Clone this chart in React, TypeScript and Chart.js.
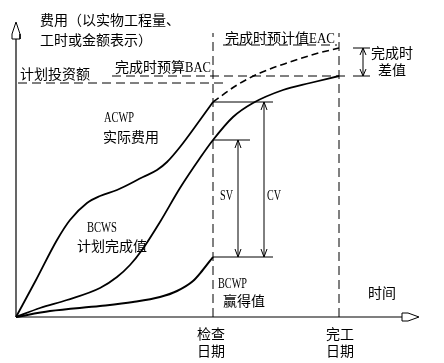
import { useEffect, useRef } from "react";
import { Chart, registerables } from "chart.js";

Chart.register(...registerables);

// ---- data (time units along x, cost units along y) ----
const acwpTime = [0, 20, 41, 54, 71, 84, 101, 127, 141, 151, 164, 184, 197];
const acwpCost = [0, 37, 77, 97, 114, 121, 127, 140, 147, 155, 170, 197, 215];
const eacTime = [197, 221, 244, 274, 299, 323];
const eacCost = [215, 232, 244, 255, 263, 269];
const bcwsTime = [0, 24, 51, 84, 101, 114, 126, 144, 164, 184, 197, 217, 237, 267, 294, 323];
const bcwsCost = [0, 9, 17, 29, 40, 52, 67, 95, 129, 159, 177, 200, 214, 227, 234, 241];
const bcwpTime = [0, 34, 84, 117, 144, 161, 177, 186, 197];
const bcwpCost = [0, 6, 11, 15, 20, 26, 36, 46, 60];

const checkDate = 197;
const finishDate = 323;
const plannedBudget = 234;
const bac = 241;
const eac = 269;
const topOfGuides = 284;
const timeAxisEnd = 386;
const costAxisEnd = 278;
const svTime = 222;
const cvTime = 248;
const diffTime = 347;

const zip = (xs: number[], ys: number[]) => xs.map((x, i) => ({ x, y: ys[i] }));

type Pt = { x: number; y: number };

const curve = (pts: Pt[], width: number, dash: number[] = []) => ({
  data: pts,
  borderColor: "#000",
  borderWidth: width,
  borderDash: dash,
  pointRadius: 0,
  fill: false,
  cubicInterpolationMode: "monotone" as const,
  tension: 0.4,
});

const seg = (pts: Pt[], width = 1, dash: number[] = []) => ({
  data: pts,
  borderColor: "#000",
  borderWidth: width,
  borderDash: dash,
  pointRadius: 0,
  fill: false,
  tension: 0,
});

const head = (x: number, y: number, up: boolean, len = 8): Pt[] => {
  const d = up ? -len : len;
  return [
    { x: x - 3, y: y + d },
    { x, y },
    { x: x + 3, y: y + d },
  ];
};

type Label = { text: string; x: number; y: number; latin?: boolean; w?: number };

const labels: Label[] = [
  { text: "费用（以实物工程量、", x: 24, y: 297 },
  { text: "工时或金额表示）", x: 24, y: 277 },
  { text: "计划投资额", x: 4, y: 243 },
  { text: "完成时预算", x: 99, y: 250 },
  { text: "BAC", x: 169, y: 250, latin: true, w: 26 },
  { text: "完成时预计值", x: 209, y: 279 },
  { text: "EAC", x: 293, y: 279, latin: true, w: 26 },
  { text: "完成时", x: 355, y: 264 },
  { text: "差值", x: 362, y: 247 },
  { text: "ACWP", x: 88, y: 200, latin: true, w: 30 },
  { text: "实际费用", x: 87, y: 180 },
  { text: "BCWS", x: 71, y: 90, latin: true, w: 30 },
  { text: "计划完成值", x: 61, y: 71 },
  { text: "SV", x: 204, y: 122, latin: true, w: 13 },
  { text: "CV", x: 251, y: 122, latin: true, w: 14 },
  { text: "BCWP", x: 202, y: 34, latin: true, w: 29 },
  { text: "赢得值", x: 207, y: 16 },
  { text: "时间", x: 352, y: 24 },
  { text: "检查", x: 181, y: -17 },
  { text: "日期", x: 181, y: -34 },
  { text: "完工", x: 310, y: -17 },
  { text: "日期", x: 310, y: -34 },
];

const textPlugin = {
  id: "texts",
  afterDraw(chart: any) {
    const { ctx } = chart;
    const xs = chart.scales.x;
    const ys = chart.scales.y;
    ctx.save();
    ctx.fillStyle = "#000";
    ctx.textBaseline = "middle";
    ctx.textAlign = "left";
    for (const l of labels) {
      const px = xs.getPixelForValue(l.x);
      const py = ys.getPixelForValue(l.y);
      if (l.latin) {
        ctx.font = "15px 'Liberation Serif'";
        ctx.fillText(l.text, px, py + 1, l.w);
      } else {
        ctx.font = "14px 'Noto Sans CJK SC'";
        ctx.fillText(l.text, px, py);
      }
    }
    ctx.restore();
  },
};

export default function App() {
  const ref = useRef<HTMLCanvasElement | null>(null);
  useEffect(() => {
    if (!ref.current) return;
    const acwp = zip(acwpTime, acwpCost);
    const eacPts = zip(eacTime, eacCost);
    const bcws = zip(bcwsTime, bcwsCost);
    const bcwp = zip(bcwpTime, bcwpCost);
    const acwpAtCheck = acwpCost[acwpCost.length - 1];
    const bcwsAtCheck = bcwsCost[bcwsTime.indexOf(checkDate)];
    const bcwpAtCheck = bcwpCost[bcwpCost.length - 1];

    const datasets: any[] = [
      curve(acwp, 1.8),
      curve(eacPts, 1.6, [7, 4]),
      curve(bcws, 1.8),
      curve(bcwp, 2),
      // axes
      seg([{ x: 0, y: 0 }, { x: timeAxisEnd, y: 0 }], 1.2),
      seg([{ x: 0, y: 0 }, { x: 0, y: costAxisEnd }], 1.2),
      seg([
        { x: -4, y: costAxisEnd },
        { x: -4, y: costAxisEnd + 5 },
        { x: 0, y: costAxisEnd + 17 },
        { x: 4, y: costAxisEnd + 5 },
        { x: 4, y: costAxisEnd },
        { x: -4, y: costAxisEnd },
      ]),
      seg([
        { x: timeAxisEnd, y: 4 },
        { x: timeAxisEnd + 6, y: 4 },
        { x: timeAxisEnd + 17, y: 0 },
        { x: timeAxisEnd + 6, y: -4 },
        { x: timeAxisEnd, y: -4 },
        { x: timeAxisEnd, y: 4 },
      ]),
      // guide lines
      seg([{ x: checkDate, y: 0 }, { x: checkDate, y: topOfGuides }], 1, [9, 5]),
      seg([{ x: finishDate, y: 0 }, { x: finishDate, y: topOfGuides }], 1, [9, 5]),
      seg([{ x: 96, y: bac }, { x: finishDate + 6, y: bac }], 1, [9, 5]),
      seg([{ x: 2, y: plannedBudget }, { x: 209, y: plannedBudget }], 1, [9, 5]),
      seg([{ x: 207, y: eac + 3 }, { x: 321, y: eac + 3 }], 1, [9, 5]),
      // SV / CV measures
      seg([{ x: checkDate, y: bcwsAtCheck }, { x: 234, y: bcwsAtCheck }]),
      seg([{ x: checkDate, y: acwpAtCheck }, { x: 257, y: acwpAtCheck }]),
      seg([{ x: checkDate, y: bcwpAtCheck }, { x: 257, y: bcwpAtCheck }]),
      seg([{ x: svTime, y: bcwpAtCheck }, { x: svTime, y: bcwsAtCheck }]),
      seg(head(svTime, bcwsAtCheck, true)),
      seg(head(svTime, bcwpAtCheck, false)),
      seg([{ x: cvTime, y: bcwpAtCheck }, { x: cvTime, y: acwpAtCheck }]),
      seg(head(cvTime, acwpAtCheck, true)),
      seg(head(cvTime, bcwpAtCheck, false)),
      // completion difference
      seg([{ x: 337, y: eac }, { x: 354, y: eac }]),
      seg([{ x: 337, y: bac }, { x: 354, y: bac }]),
      seg([{ x: diffTime, y: bac }, { x: diffTime, y: eac }]),
      seg(head(diffTime, eac, true, 7)),
      seg(head(diffTime, bac, false, 7)),
    ];

    const chart = new Chart(ref.current, {
      type: "line",
      data: { datasets },
      options: {
        animation: false,
        responsive: false,
        layout: { padding: 0 },
        plugins: { legend: { display: false }, tooltip: { enabled: false } },
        scales: {
          x: { type: "linear", min: -16, max: 428, display: false },
          y: { type: "linear", min: -46, max: 317, display: false },
        },
      },
      plugins: [textPlugin],
    });
    return () => chart.destroy();
  }, []);

  return (
    <div style={{ position: "fixed", left: 0, top: 0, width: 444, height: 363, background: "#fff" }}>
      <canvas ref={ref} width={444} height={363} />
    </div>
  );
}
